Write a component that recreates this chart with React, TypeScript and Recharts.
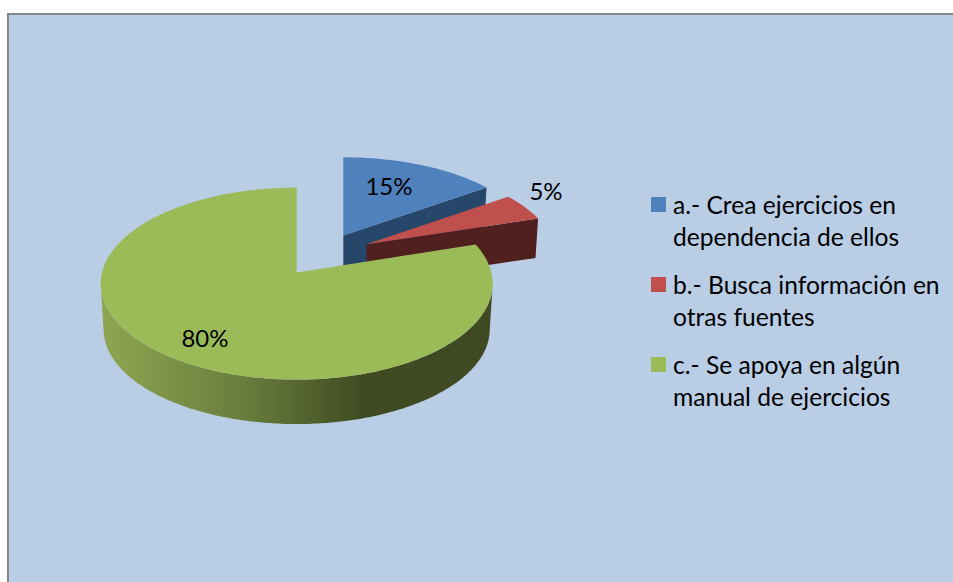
import { Legend, Pie, PieChart } from "recharts";

const categories = [
  "a.- Crea ejercicios en dependencia de ellos",
  "b.- Busca información en otras fuentes",
  "c.- Se apoya en algún manual de ejercicios",
];
const values = [15, 5, 80];
const colors = ["#4f81bd", "#c0504d", "#9bbb59"];

const data = categories.map((name, i) => ({ name, value: values[i], fill: colors[i] }));

// look of the tilted pie, fitted to the reference
const FONT = "Lato, 'Open Sans', sans-serif";
const TILT = 0.4866;
const PERSPECTIVE = 0.1146;
const DEPTH = 46;
const TAPER = 0.985;
const sliceExplode = [0.23, 0.25, 0.23];
const sliceScale = [0.97, 0.96, 1];
const sliceSquash = [0.95, 0.95, 1];
const depthScale = [0.85, 0.85, 1];
const wallColors = ["#26466a", "#4f201e", "url(#greenWall)"];
const labelPos = [
  [389, 185],
  [546, 190],
  [205, 337],
];

// clockwise angle from the top of the pie, on the tilted plane
const project = (deg: number, r: number) => {
  const t = (deg * Math.PI) / 180;
  const d = 1 + PERSPECTIVE * Math.cos(t);
  return [(r * Math.sin(t)) / d, (-r * TILT * Math.cos(t)) / d];
};

const toPath = (pts: number[][]) =>
  "M" + pts.map((p) => `${p[0].toFixed(1)},${p[1].toFixed(1)}`).join("L") + "Z";

function Slice3D(props: any) {
  const { cx, cy, outerRadius, startAngle, endAngle, midAngle, index, fill } = props;
  const from = 90 - startAngle;
  const to = 90 - endAngle;
  const m = ((90 - midAngle) * Math.PI) / 180;
  const explode = sliceExplode[index];
  const ax = cx + explode * outerRadius * Math.sin(m);
  const ay = cy - explode * outerRadius * TILT * Math.cos(m);
  const r = outerRadius * sliceScale[index];
  const squash = sliceSquash[index];
  const d = DEPTH * depthScale[index];

  const top = (deg: number) => {
    const p = project(deg, r);
    return [ax + p[0], ay + p[1] * squash];
  };
  const bottom = (deg: number) => {
    const p = project(deg, r * TAPER);
    return [ax + p[0], ay + p[1] * squash + d];
  };

  const arc: number[] = [];
  for (let a = from; a < to; a += 1) arc.push(a);
  arc.push(to);

  // the rim is seen only between the two widest points of the ellipse
  const front = arc.filter((a) => Math.cos((a * Math.PI) / 180) < -PERSPECTIVE);
  const outerWall = [...front.map(top), ...front.slice().reverse().map(bottom)];
  const cutWall = [[ax, ay], top(to), bottom(to), [ax, ay + d]];

  return (
    <g>
      <path d={toPath(cutWall)} fill={wallColors[index]} />
      {front.length > 0 && <path d={toPath(outerWall)} fill={wallColors[index]} />}
      <path d={toPath([[ax, ay], ...arc.map(top)])} fill={fill} />
    </g>
  );
}

const renderLabel = (props: any) => (
  <text
    x={labelPos[props.index][0]}
    y={labelPos[props.index][1]}
    textAnchor="middle"
    dominantBaseline="central"
    fontFamily={FONT}
    fontSize={24}
    fill="#000"
  >
    {props.value}%
  </text>
);

function LegendBox({ payload }: any) {
  return (
    <div style={{ fontFamily: FONT, fontSize: 24.6, lineHeight: "32px", color: "#000" }}>
      {(payload || []).map((entry: any) => (
        <div key={entry.value} style={{ position: "relative", paddingLeft: 22, marginBottom: 16 }}>
          <span
            style={{
              position: "absolute",
              left: 0,
              top: 8,
              width: 15,
              height: 15,
              background: entry.color,
            }}
          />
          {entry.value}
        </div>
      ))}
    </div>
  );
}

export default function App() {
  return (
    <div style={{ position: "fixed", left: 0, top: 0, width: 953, height: 582, background: "#fff", overflow: "hidden" }}>
      <div
        style={{
          position: "absolute",
          left: 7,
          top: 13,
          width: 960,
          height: 580,
          background: "#b9cde5",
          borderLeft: "2px solid #868686",
          borderTop: "2px solid #868686",
        }}
      />
      <div style={{ position: "absolute", left: 0, top: 0 }}>
        <PieChart width={953} height={582} margin={{ top: 0, right: 0, bottom: 0, left: 0 }}>
          <defs>
            <linearGradient id="greenWall" gradientUnits="userSpaceOnUse" x1={100} x2={490} y1={0} y2={0}>
              <stop offset="0%" stopColor="#8fa653" />
              <stop offset="21%" stopColor="#7a8f45" />
              <stop offset="39%" stopColor="#667a3b" />
              <stop offset="68%" stopColor="#3f4a22" />
              <stop offset="100%" stopColor="#3f4a22" />
            </linearGradient>
          </defs>
          <Pie
            data={data}
            dataKey="value"
            nameKey="name"
            cx={323}
            cy={255}
            innerRadius={0}
            outerRadius={194.7}
            startAngle={90}
            endAngle={-270}
            stroke="none"
            shape={Slice3D}
            label={renderLabel}
            labelLine={false}
            isAnimationActive={false}
          />
          <Legend
            layout="vertical"
            content={<LegendBox />}
            wrapperStyle={{ position: "absolute", left: 651, top: 189, width: 295, bottom: "auto", right: "auto" }}
          />
        </PieChart>
      </div>
    </div>
  );
}
